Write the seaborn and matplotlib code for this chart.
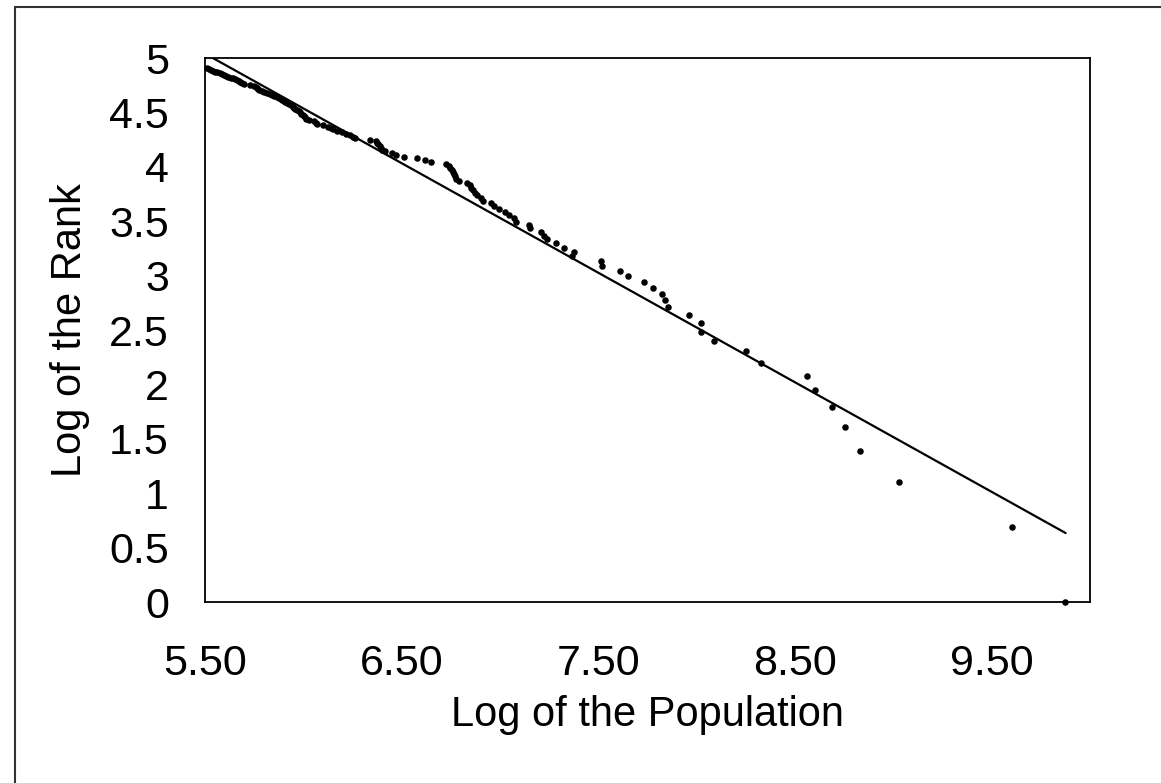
import numpy as np
import pandas as pd
import matplotlib
matplotlib.use("Agg")
import matplotlib.pyplot as plt
import seaborn as sns
from matplotlib.patches import Rectangle

# Log of the population (rank 1 .. 135)
log_pop = [
    9.874, 9.603, 9.028, 8.830, 8.754, 8.688, 8.601, 8.561, 8.327, 8.251,
    8.089, 8.023, 8.023, 7.962, 7.855, 7.840, 7.825, 7.779, 7.734, 7.650,
    7.612, 7.520, 7.515, 7.368, 7.378, 7.327, 7.285, 7.241, 7.226, 7.209,
    7.155, 7.145, 7.080, 7.070, 7.048, 7.023, 6.997, 6.970, 6.955, 6.915,
    6.905, 6.885, 6.872, 6.865, 6.855, 6.845, 6.830, 6.790, 6.778, 6.772,
    6.765, 6.760, 6.755, 6.748, 6.740, 6.727, 6.651, 6.617, 6.576, 6.510,
    6.473, 6.450, 6.414, 6.398, 6.395, 6.390, 6.380, 6.375, 6.368, 6.338,
    6.262, 6.250, 6.236, 6.215, 6.198, 6.170, 6.150, 6.140, 6.125, 6.098,
    6.072, 6.062, 6.055, 6.030, 6.012, 6.006, 6.002, 5.996, 5.990, 5.983,
    5.976, 5.968, 5.960, 5.952, 5.945, 5.935, 5.925, 5.916, 5.908, 5.900,
    5.893, 5.885, 5.876, 5.864, 5.853, 5.842, 5.828, 5.815, 5.800, 5.790,
    5.777, 5.771, 5.765, 5.758, 5.750, 5.730, 5.700, 5.688, 5.679, 5.671,
    5.662, 5.653, 5.642, 5.630, 5.618, 5.607, 5.595, 5.585, 5.574, 5.562,
    5.552, 5.540, 5.530, 5.522, 5.512,
]
# Log of the rank
log_rank = [
    0.000, 0.693, 1.099, 1.386, 1.609, 1.792, 1.946, 2.079, 2.197, 2.303,
    2.398, 2.485, 2.565, 2.639, 2.708, 2.773, 2.833, 2.890, 2.944, 2.996,
    3.045, 3.091, 3.135, 3.178, 3.219, 3.258, 3.296, 3.332, 3.367, 3.401,
    3.434, 3.466, 3.497, 3.526, 3.555, 3.584, 3.611, 3.638, 3.664, 3.689,
    3.714, 3.738, 3.761, 3.784, 3.807, 3.829, 3.850, 3.871, 3.892, 3.912,
    3.932, 3.951, 3.970, 3.989, 4.007, 4.025, 4.043, 4.060, 4.078, 4.094,
    4.111, 4.127, 4.143, 4.159, 4.174, 4.190, 4.205, 4.220, 4.234, 4.248,
    4.263, 4.277, 4.290, 4.304, 4.317, 4.331, 4.344, 4.357, 4.369, 4.382,
    4.394, 4.407, 4.419, 4.431, 4.443, 4.454, 4.466, 4.477, 4.489, 4.500,
    4.511, 4.522, 4.533, 4.543, 4.554, 4.564, 4.575, 4.585, 4.595, 4.605,
    4.615, 4.625, 4.635, 4.644, 4.654, 4.663, 4.673, 4.682, 4.691, 4.700,
    4.710, 4.718, 4.727, 4.736, 4.745, 4.754, 4.762, 4.771, 4.779, 4.787,
    4.796, 4.804, 4.812, 4.820, 4.828, 4.836, 4.844, 4.852, 4.860, 4.868,
    4.875, 4.883, 4.890, 4.898, 4.905,
]

# fitted regression line
fit_x = [5.54, 9.876]
fit_intercept = 10.578
fit_slope = -1.0069

x_ticks = [5.5, 6.5, 7.5, 8.5, 9.5]
x_tick_labels = ["5.50", "6.50", "7.50", "8.50", "9.50"]
y_ticks = [0, 0.5, 1, 1.5, 2, 2.5, 3, 3.5, 4, 4.5, 5]
y_tick_labels = ["0", "0.5", "1", "1.5", "2", "2.5", "3", "3.5", "4", "4.5", "5"]

sns.set_theme(style="white")
plt.rcParams["font.family"] = ["Liberation Sans", "DejaVu Sans"]

W, H = 1161, 783
fig = plt.figure(figsize=(W / 100, H / 100), dpi=100)
fig.patch.set_facecolor("white")
ax = fig.add_axes([205 / W, 1 - 602 / H, (1090 - 205) / W, (602 - 58) / H])

df = pd.DataFrame({"x": log_pop, "y": log_rank})
fit_df = pd.DataFrame({"x": fit_x,
                       "y": [fit_intercept + fit_slope * v for v in fit_x]})

sns.lineplot(data=fit_df, x="x", y="y", ax=ax, color="black", linewidth=1.6)
sns.scatterplot(data=df, x="x", y="y", ax=ax, color="black", s=22,
                edgecolor="black", linewidth=0, clip_on=False, zorder=3)

ax.set_xlim(5.5, 10.0)
ax.set_ylim(0, 5)
ax.set_xticks(x_ticks)
ax.set_xticklabels(x_tick_labels)
ax.set_yticks(y_ticks)
ax.set_yticklabels(y_tick_labels)
ax.tick_params(axis="both", direction="out", length=10, width=1.2,
               color="black", labelsize=31, labelcolor="black")
ax.tick_params(axis="x", pad=20)
ax.tick_params(axis="y", pad=16)
for sp in ax.spines.values():
    sp.set_visible(True)
    sp.set_color("black")
    sp.set_linewidth(1.3)

ax.set_xlabel("Log of the Population", fontsize=30, color="black", labelpad=8)
ax.set_ylabel("Log of the Rank", fontsize=30, color="black", labelpad=14)

# outer frame of the scanned figure
fig.patches.append(Rectangle((15 / W, -0.02), 1.05, 1 - 7 / H + 0.02,
                             transform=fig.transFigure, fill=False,
                             edgecolor="#333333", linewidth=1.5))

fig.savefig("out.png", dpi=100)
